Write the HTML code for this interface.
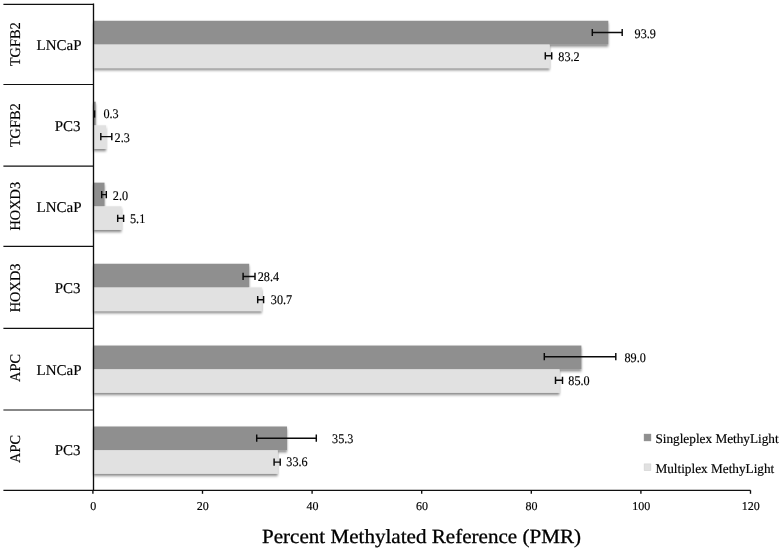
<!DOCTYPE html>
<html><head><meta charset="utf-8"><title>PMR chart</title>
<style>
html,body{margin:0;padding:0;background:#fff;}
body{width:783px;height:553px;overflow:hidden;}
svg{display:block;}
text{font-family:"Liberation Serif","Times New Roman",serif;fill:#000;stroke:#000;stroke-width:0.16px;stroke-linejoin:round;text-rendering:geometricPrecision;}
.ax{stroke:#0c0c0c;stroke-width:1.35;fill:none;}
.hl{stroke:#101010;stroke-width:1.2;fill:none;}
.eb{stroke:#0a0a0a;stroke-width:1.45;fill:none;}
.dl{font-size:13.2px;}
.tk{font-size:12px;text-anchor:middle;}
.cl{font-size:15px;text-anchor:end;}
.gn{font-size:14.8px;text-anchor:middle;}
.lg{font-size:13.25px;}
.tt{font-size:20.1px;stroke-width:0.3px;}
</style></head><body>
<svg width="783" height="553" viewBox="0 0 783 553">
<defs>
<filter id="sh" x="-2%" y="-2%" width="104%" height="105%">
<feGaussianBlur in="SourceAlpha" stdDeviation="0.8 1.7"/>
<feOffset dx="0.4" dy="2.1" result="b"/>
<feComponentTransfer><feFuncA type="linear" slope="0.5"/></feComponentTransfer>
<feMerge><feMergeNode/><feMergeNode in="SourceGraphic"/></feMerge>
</filter>
</defs>
<rect width="783" height="553" fill="#fff"/>

<g filter="url(#sh)">
<rect x="93.5" y="20.77" width="514.8" height="23.7" fill="#8f8f8f"/>
<rect x="93.5" y="44.42" width="456.1" height="23.65" fill="#e1e1e1"/>
<rect x="93.5" y="101.70" width="2.2" height="23.7" fill="#8f8f8f"/>
<rect x="93.5" y="125.35" width="12.6" height="23.65" fill="#e1e1e1"/>
<rect x="93.5" y="182.65" width="11.0" height="23.7" fill="#8f8f8f"/>
<rect x="93.5" y="206.30" width="28.0" height="23.65" fill="#e1e1e1"/>
<rect x="93.5" y="263.75" width="155.7" height="23.7" fill="#8f8f8f"/>
<rect x="93.5" y="287.40" width="168.3" height="23.65" fill="#e1e1e1"/>
<rect x="93.5" y="345.55" width="487.9" height="23.7" fill="#8f8f8f"/>
<rect x="93.5" y="369.20" width="466.0" height="23.65" fill="#e1e1e1"/>
<rect x="93.5" y="426.50" width="193.5" height="23.7" fill="#8f8f8f"/>
<rect x="93.5" y="450.15" width="184.2" height="23.65" fill="#e1e1e1"/>
</g>
<line class="hl" x1="3.4" y1="4.35" x2="93.5" y2="4.35"/>
<line class="hl" x1="3.4" y1="84.5" x2="93.5" y2="84.5"/>
<line class="hl" x1="3.4" y1="166.2" x2="93.5" y2="166.2"/>
<line class="hl" x1="3.4" y1="246.4" x2="93.5" y2="246.4"/>
<line class="hl" x1="3.4" y1="328.4" x2="93.5" y2="328.4"/>
<line class="hl" x1="3.4" y1="410.0" x2="93.5" y2="410.0"/>
<line class="hl" x1="3.4" y1="490.3" x2="750.5" y2="490.3"/>
<line class="ax" x1="93.5" y1="3.6" x2="93.5" y2="490.3"/>
<line class="ax" x1="92.9" y1="490.3" x2="92.9" y2="493.8"/>
<text class="tk" x="93.2" y="509.8">0</text>
<line class="ax" x1="202.5" y1="490.3" x2="202.5" y2="493.8"/>
<text class="tk" x="202.8" y="509.8">20</text>
<line class="ax" x1="312.1" y1="490.3" x2="312.1" y2="493.8"/>
<text class="tk" x="312.4" y="509.8">40</text>
<line class="ax" x1="421.7" y1="490.3" x2="421.7" y2="493.8"/>
<text class="tk" x="422.0" y="509.8">60</text>
<line class="ax" x1="531.3" y1="490.3" x2="531.3" y2="493.8"/>
<text class="tk" x="531.6" y="509.8">80</text>
<line class="ax" x1="640.9" y1="490.3" x2="640.9" y2="493.8"/>
<text class="tk" x="641.2" y="509.8">100</text>
<line class="ax" x1="750.5" y1="490.3" x2="750.5" y2="493.8"/>
<text class="tk" x="750.8" y="509.8">120</text>
<path class="eb" d="M592.3 32.5H622.2M592.3 28.9V36.1M622.2 28.9V36.1"/>
<path class="eb" d="M545.3 55.8H551.7M545.3 52.2V59.4M551.7 52.2V59.4"/>
<rect x="93.4" y="110.4" width="1.9" height="7.2" fill="#0a0a0a"/>
<path class="eb" d="M100.8 136.6H111.8M100.8 133.0V140.2M111.8 133.0V140.2"/>
<path class="eb" d="M101.7 194.6H106.3M101.7 191.0V198.2M106.3 191.0V198.2"/>
<path class="eb" d="M117.7 218.3H123.6M117.7 214.7V221.9M123.6 214.7V221.9"/>
<path class="eb" d="M243.1 276.4H255.0M243.1 272.8V280.0M255.0 272.8V280.0"/>
<path class="eb" d="M257.7 299.7H263.6M257.7 296.1V303.3M263.6 296.1V303.3"/>
<path class="eb" d="M544.3 356.7H615.8M544.3 353.1V360.3M615.8 353.1V360.3"/>
<path class="eb" d="M555.5 380.3H562.5M555.5 376.7V383.9M562.5 376.7V383.9"/>
<path class="eb" d="M256.7 438.2H316.3M256.7 434.6V441.8M316.3 434.6V441.8"/>
<path class="eb" d="M274.1 462.1H280.2M274.1 458.5V465.7M280.2 458.5V465.7"/>
<text class="dl" transform="translate(634.6 37.5) scale(0.925 1)">93.9</text>
<text class="dl" transform="translate(558.3 60.9) scale(0.925 1)">83.2</text>
<text class="dl" transform="translate(103.4 118.1) scale(0.925 1)">0.3</text>
<text class="dl" transform="translate(114.6 141.8) scale(0.925 1)">2.3</text>
<text class="dl" transform="translate(112.8 199.5) scale(0.925 1)">2.0</text>
<text class="dl" transform="translate(130.0 222.7) scale(0.925 1)">5.1</text>
<text class="dl" transform="translate(257.7 280.7) scale(0.925 1)">28.4</text>
<text class="dl" transform="translate(270.8 304.0) scale(0.925 1)">30.7</text>
<text class="dl" transform="translate(624.5 362.0) scale(0.925 1)">89.0</text>
<text class="dl" transform="translate(568.3 385.3) scale(0.925 1)">85.0</text>
<text class="dl" transform="translate(332.1 443.4) scale(0.925 1)">35.3</text>
<text class="dl" transform="translate(286.3 466.3) scale(0.925 1)">33.6</text>
<text class="cl" x="81.6" y="50.2">LNCaP</text>
<text class="gn" transform="translate(20.3 44.2) rotate(-90) scale(0.972 1)">TGFB2</text>
<text class="cl" x="80.5" y="131.1">PC3</text>
<text class="gn" transform="translate(20.3 125.2) rotate(-90) scale(0.972 1)">TGFB2</text>
<text class="cl" x="81.6" y="212.1">LNCaP</text>
<text class="gn" transform="translate(20.3 206.2) rotate(-90) scale(0.972 1)">HOXD3</text>
<text class="cl" x="80.5" y="293.4">PC3</text>
<text class="gn" transform="translate(20.3 287.9) rotate(-90) scale(0.972 1)">HOXD3</text>
<text class="cl" x="81.6" y="374.6">LNCaP</text>
<text class="gn" transform="translate(20.3 367.9) rotate(-90) scale(0.972 1)">APC</text>
<text class="cl" x="80.5" y="455.3">PC3</text>
<text class="gn" transform="translate(20.3 449.0) rotate(-90) scale(0.972 1)">APC</text>
<rect x="644.1" y="434.1" width="6.8" height="6.8" fill="#8f8f8f" stroke="#858585" stroke-width="0.5"/>
<rect x="644.1" y="463.9" width="6.8" height="6.8" fill="#e1e1e1" stroke="#cdcdcd" stroke-width="0.5"/>
<text class="lg" x="655.4" y="443.3">Singleplex MethyLight</text>
<text class="lg" x="655.4" y="472.8">Multiplex MethyLight</text>
<text class="tt" x="262" y="543.2" textLength="319" lengthAdjust="spacingAndGlyphs">Percent Methylated Reference (PMR)</text>
</svg></body></html>
